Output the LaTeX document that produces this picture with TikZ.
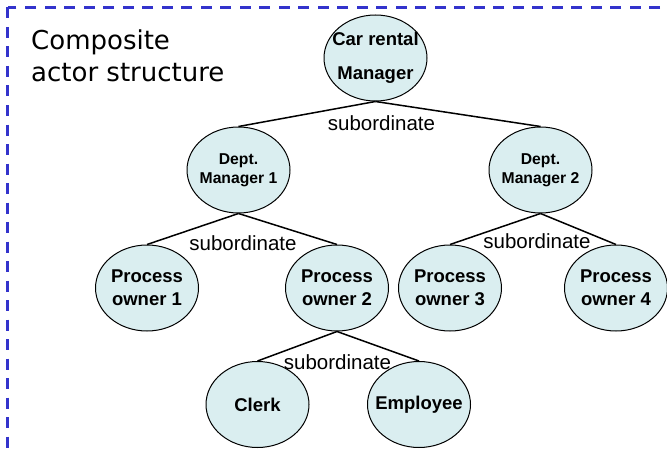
\documentclass[tikz,border=0pt]{standalone}
\usepackage{fontspec}
\setmainfont{Liberation Sans}
\newfontfamily\titlefont{DejaVu Sans}
\usetikzlibrary{shapes.geometric}

\definecolor{actorfill}{RGB}{218,238,240}
\definecolor{frameblue}{RGB}{51,51,204}

\begin{document}
\begin{tikzpicture}[x=1pt,y=-1pt,
    actor/.style={ellipse, draw, fill=actorfill, line width=1pt,
        minimum width=103pt, minimum height=86pt, inner xsep=-8pt, inner ysep=0pt,
        align=center, font=\bfseries\fontsize{18.5}{23}\selectfont},
    sublabel/.style={inner sep=0pt, font=\fontsize{20.5}{24}\selectfont},
    link/.style={line width=1.5pt}]

\useasboundingbox (0,0) rectangle (667,452);
\clip (0,0) rectangle (667,452);

%cadre
\draw[frameblue, line width=2.6pt, dash pattern=on 11pt off 8.5pt]
    (7.5,7.5) rectangle (690,480);

\node[anchor=west, align=left, inner sep=0pt,
      font=\titlefont\fontsize{26}{32}\selectfont] (title) at (31,56)
    {Composite\\actor structure};

%acteurs
\node[actor, font=\bfseries\fontsize{18.5}{34}\selectfont] (car) at (375.5,58) {Car rental\\Manager};
\node[actor, font=\bfseries\fontsize{15.7}{19}\selectfont] (dm1) at (238.5,170) {Dept.\\Manager 1};
\node[actor, font=\bfseries\fontsize{15.7}{19}\selectfont] (dm2) at (540.5,170) {Dept.\\Manager 2};
\node[actor] (po1) at (147,288) {Process\\owner 1};
\node[actor] (po2) at (337,288) {Process\\owner 2};
\node[actor] (po3) at (450,288) {Process\\owner 3};
\node[actor] (po4) at (616,288) {Process\\owner 4};
\node[actor] (clerk) at (257.5,404.5) {Clerk};
\node[actor] (empl) at (419,404.5) {Employee};

%liens
\draw[link] (car.south) -- (dm1.north);
\draw[link] (car.south) -- (dm2.north);
\draw[link] (dm1.south) -- (po1.north);
\draw[link] (dm1.south) -- (po2.north);
\draw[link] (dm2.south) -- (po3.north);
\draw[link] (dm2.south) -- (po4.north);
\draw[link] (po2.south) -- (clerk.north);
\draw[link] (po2.south) -- (empl.north);

\node[sublabel] (sub1) at (381.5,123) {subordinate};
\node[sublabel] (sub2) at (243,243) {subordinate};
\node[sublabel] (sub3) at (537,241) {subordinate};
\node[sublabel] (sub4) at (337.5,362) {subordinate};

\end{tikzpicture}
\end{document}
